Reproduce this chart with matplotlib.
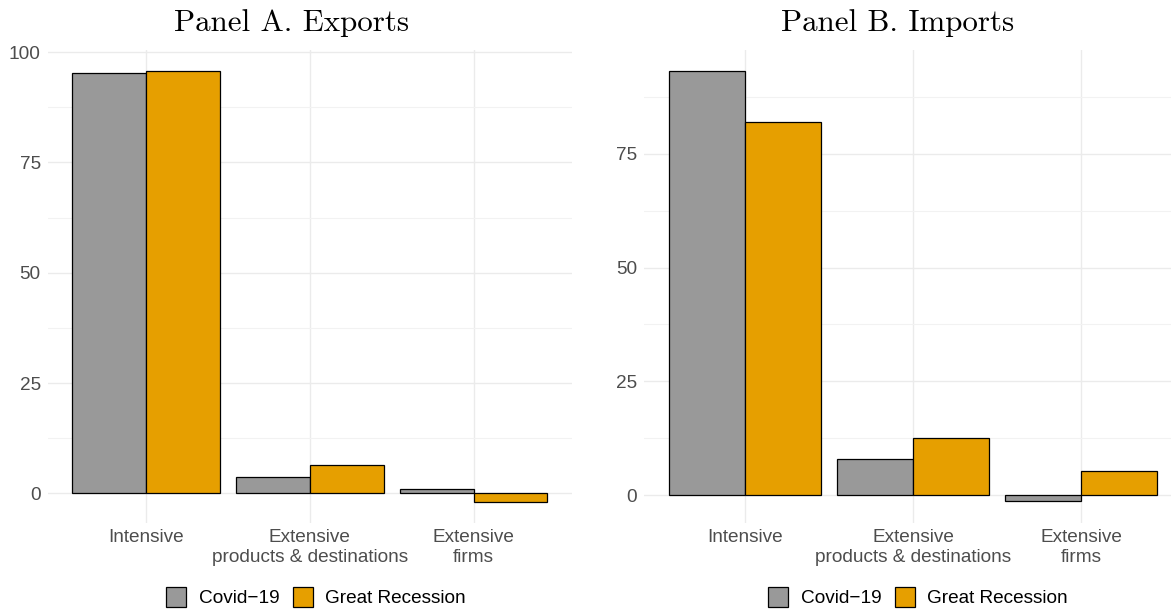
import matplotlib
matplotlib.use("Agg")
import matplotlib.pyplot as plt
from matplotlib.patches import Patch
import numpy as np

# data
categories = ["Intensive", "Extensive\nproducts & destinations", "Extensive\nfirms"]
series = ["Covid\u221219", "Great Recession"]
exports_covid = [95.3, 3.7, 0.9]
exports_gr = [95.7, 6.4, -2.0]
imports_covid = [93.2, 7.9, -1.3]
imports_gr = [81.9, 12.5, 5.3]
colors = ["#999999", "#E69F00"]

plt.rcParams['font.family'] = ['Liberation Sans', 'DejaVu Sans']
W, H = 1171, 610
fig = plt.figure(figsize=(W / 100, H / 100), dpi=100)


def panel(left, right, ylim, covid, gr, majors, minors):
    ax = fig.add_axes([left / W, 1 - 522.5 / H, (right - left) / W, (522.5 - 49.5) / H])
    x = np.arange(len(categories))
    ax.bar(x - 0.225, covid, width=0.45, color=colors[0], edgecolor="black", linewidth=0.9, zorder=3)
    ax.bar(x + 0.225, gr, width=0.45, color=colors[1], edgecolor="black", linewidth=0.9, zorder=3)
    ax.set_xlim(-0.6, 2.6)
    ax.set_ylim(*ylim)
    ax.set_xticks(x)
    ax.set_xticklabels(categories, fontsize=13.7, color="#4D4D4D", linespacing=1.22)
    ax.set_yticks(majors)
    ax.set_yticklabels([str(v) for v in majors], fontsize=13.7, color="#4D4D4D")
    ax.set_yticks(minors, minor=True)
    ax.tick_params(which="both", length=0)
    ax.tick_params(axis="y", pad=5)
    ax.tick_params(axis="x", pad=5)
    ax.grid(which="major", color="#EBEBEB", linewidth=1.0, zorder=0)
    ax.grid(which="minor", axis="y", color="#F2F2F2", linewidth=0.8, zorder=0)
    for s in ax.spines.values():
        s.set_visible(False)
    return ax


axA = panel(47.6, 572, (-6.6, 100.6), exports_covid, exports_gr,
            [0, 25, 50, 75, 100], [12.5, 37.5, 62.5, 87.5])
axB = panel(644, 1182, (-6.0, 97.9), imports_covid, imports_gr,
            [0, 25, 50, 75], [12.5, 37.5, 62.5, 87.5])

fig.text(291 / W, 1 - 23 / H, "Panel A. Exports", family="cmr10", fontsize=22.3, ha="center", va="center")
fig.text(898 / W, 1 - 23 / H, "Panel B. Imports", family="cmr10", fontsize=22.3, ha="center", va="center")

handles = [Patch(facecolor=c, edgecolor="black", linewidth=0.9) for c in colors]
for cx in (316, 918):
    fig.legend(handles, series, loc="center", bbox_to_anchor=(cx / W, 1 - 597 / H), ncol=2,
               frameon=False, fontsize=13.7, handlelength=1.05, handleheight=1.25,
               handletextpad=0.65, columnspacing=0.7, borderpad=0)

fig.savefig("out.png", dpi=100)
